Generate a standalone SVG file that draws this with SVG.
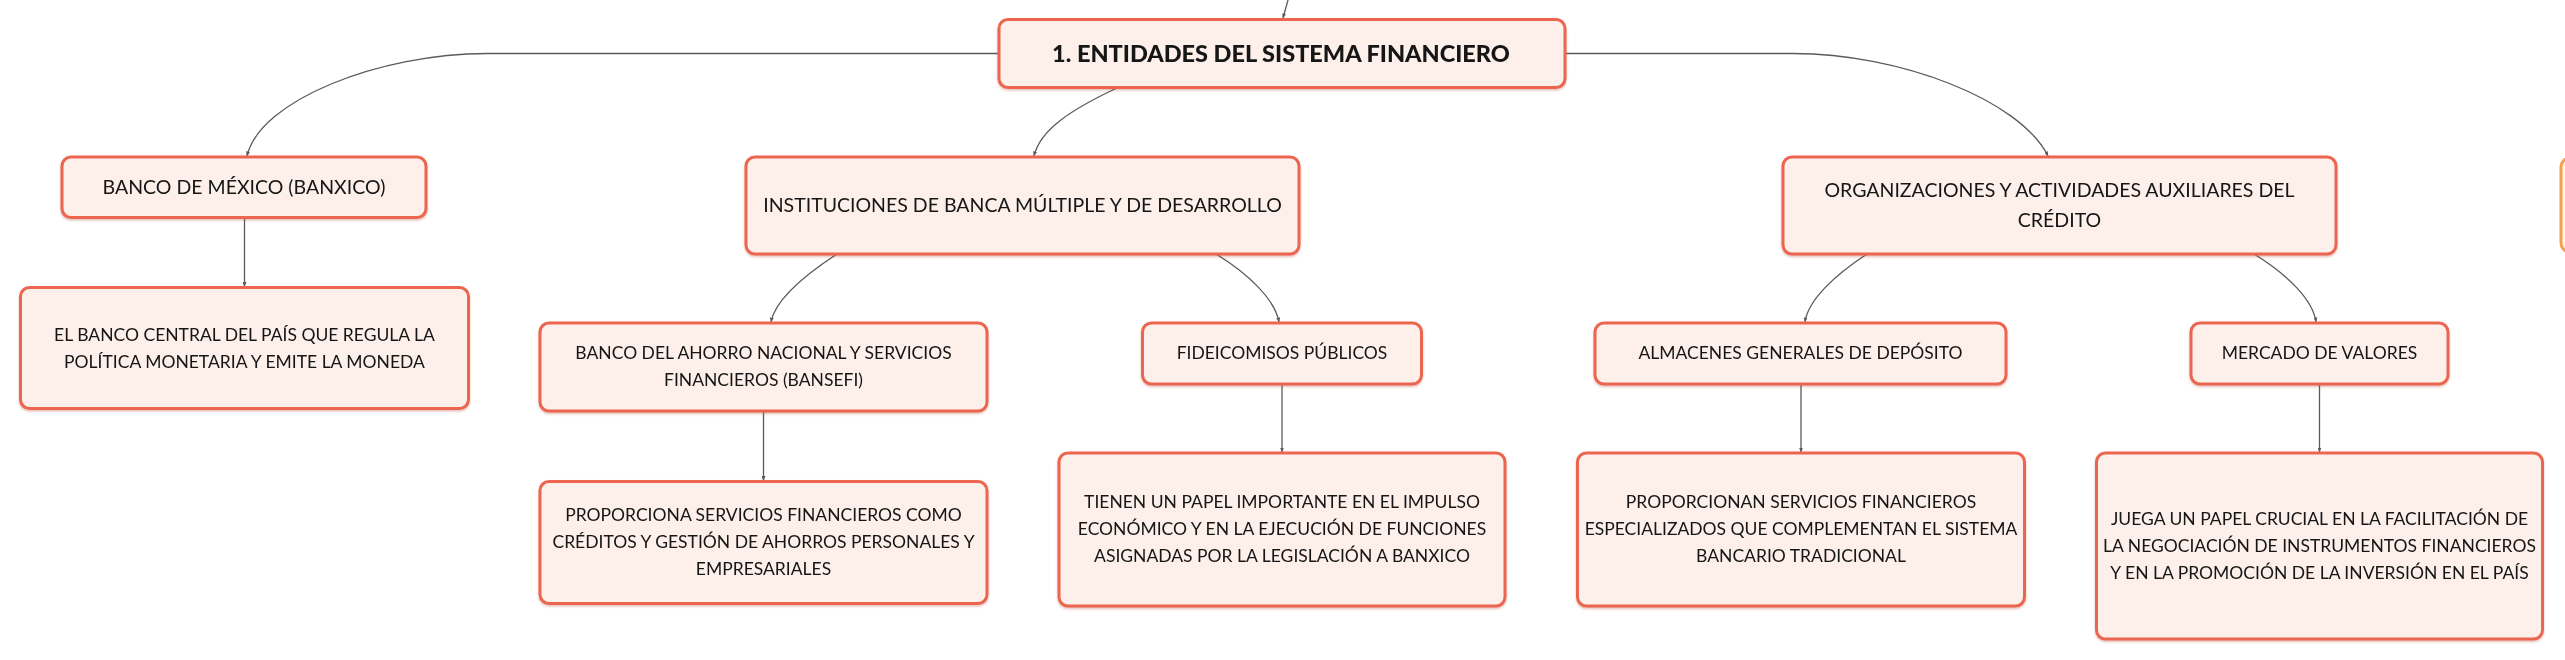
<svg xmlns="http://www.w3.org/2000/svg" width="2565" height="660" viewBox="0 0 2565 660">
<style>
  .box{fill:#fdf0eb;stroke:#ec6550;stroke-width:3}
  .t{font-family:Lato,"Liberation Sans",sans-serif;fill:#141414;text-anchor:middle}
  .b{font-size:17.5px}
  .m{font-size:19.5px}
  .r{font-size:23.5px;font-weight:900}
  .c{fill:none;stroke:#5a5a5a;stroke-width:1.3}
</style>
<defs>
  <marker id="ah" markerUnits="userSpaceOnUse" markerWidth="5" markerHeight="4" refX="4.5" refY="2" orient="auto">
    <path d="M0,0 L5,2 L0,4 z" fill="#5a5a5a"/>
  </marker>
  <filter id="sh" x="-5%" y="-5%" width="110%" height="120%">
    <feDropShadow dx="0" dy="1.5" stdDeviation="1" flood-color="#b04030" flood-opacity="0.35"/>
  </filter>
</defs>
<rect width="2565" height="660" fill="#ffffff"/>

<g id="connectors">
  <path class="c" d="M1288,0 L1283,18" marker-end="url(#ah)"/>
  <path class="c" d="M999,53.5 L487,53.5 C380,53.5 260,100 247,156" marker-end="url(#ah)"/>
  <path class="c" d="M1565,53.5 L1793,53.5 C1900,53.5 2020,100 2048,156" marker-end="url(#ah)"/>
  <path class="c" d="M1118,87.5 C1070,110 1040,130 1034,156" marker-end="url(#ah)"/>
  <path class="c" d="M837,254 C805,275 775,300 771,322" marker-end="url(#ah)"/>
  <path class="c" d="M1216,254 C1250,275 1275,300 1279,322" marker-end="url(#ah)"/>
  <path class="c" d="M1867,254 C1835,275 1808,300 1805,322" marker-end="url(#ah)"/>
  <path class="c" d="M2254,254 C2288,275 2313,300 2316,322" marker-end="url(#ah)"/>
  <path class="c" d="M244.5,217.5 L244.5,286.5" marker-end="url(#ah)"/>
  <path class="c" d="M763.5,411 L763.5,480.5" marker-end="url(#ah)"/>
  <path class="c" d="M1282,384 L1282,452" marker-end="url(#ah)"/>
  <path class="c" d="M1801,384 L1801,452" marker-end="url(#ah)"/>
  <path class="c" d="M2319.5,384 L2319.5,452" marker-end="url(#ah)"/>
</g>

<g id="root" filter="url(#sh)">
  <rect class="box" x="999" y="19.5" width="566" height="68" rx="9"/>
  <text class="t r" x="1281" y="62">1. ENTIDADES DEL SISTEMA FINANCIERO</text>
</g>

<g id="banxico" filter="url(#sh)">
  <rect class="box" x="62" y="157" width="364" height="60.5" rx="9"/>
  <text class="t m" x="244" y="194">BANCO DE MÉXICO (BANXICO)</text>
</g>
<g id="banxico-desc" filter="url(#sh)">
  <rect class="box" x="20.5" y="287.5" width="448" height="121" rx="9"/>
  <text class="t b" x="244.5" y="341">EL BANCO CENTRAL DEL PAÍS QUE REGULA LA</text>
  <text class="t b" x="244.5" y="367.5">POLÍTICA MONETARIA Y EMITE LA MONEDA</text>
</g>

<g id="instituciones" filter="url(#sh)">
  <rect class="box" x="746" y="157" width="553" height="97" rx="9"/>
  <text class="t m" x="1022.5" y="212">INSTITUCIONES DE BANCA MÚLTIPLE Y DE DESARROLLO</text>
</g>
<g id="bansefi" filter="url(#sh)">
  <rect class="box" x="540" y="323" width="447" height="88" rx="9"/>
  <text class="t b" x="763.5" y="359">BANCO DEL AHORRO NACIONAL Y SERVICIOS</text>
  <text class="t b" x="763.5" y="386">FINANCIEROS (BANSEFI)</text>
</g>
<g id="bansefi-desc" filter="url(#sh)">
  <rect class="box" x="540" y="481.5" width="447" height="122" rx="9"/>
  <text class="t b" x="763.5" y="520.5">PROPORCIONA SERVICIOS FINANCIEROS COMO</text>
  <text class="t b" x="763.5" y="547.5">CRÉDITOS Y GESTIÓN DE AHORROS PERSONALES Y</text>
  <text class="t b" x="763.5" y="574.5">EMPRESARIALES</text>
</g>
<g id="fideicomisos" filter="url(#sh)">
  <rect class="box" x="1142.5" y="323" width="279" height="61" rx="9"/>
  <text class="t b" x="1282" y="359">FIDEICOMISOS PÚBLICOS</text>
</g>
<g id="fideicomisos-desc" filter="url(#sh)">
  <rect class="box" x="1059" y="453" width="446" height="153" rx="9"/>
  <text class="t b" x="1282" y="508">TIENEN UN PAPEL IMPORTANTE EN EL IMPULSO</text>
  <text class="t b" x="1282" y="535">ECONÓMICO Y EN LA EJECUCIÓN DE FUNCIONES</text>
  <text class="t b" x="1282" y="562">ASIGNADAS POR LA LEGISLACIÓN A BANXICO</text>
</g>

<g id="organizaciones" filter="url(#sh)">
  <rect class="box" x="1783" y="157" width="553" height="97" rx="9"/>
  <text class="t m" x="2059.5" y="197">ORGANIZACIONES Y ACTIVIDADES AUXILIARES DEL</text>
  <text class="t m" x="2059.5" y="226.5">CRÉDITO</text>
</g>
<g id="almacenes" filter="url(#sh)">
  <rect class="box" x="1595" y="323" width="411" height="61" rx="9"/>
  <text class="t b" x="1800.5" y="359">ALMACENES GENERALES DE DEPÓSITO</text>
</g>
<g id="almacenes-desc" filter="url(#sh)">
  <rect class="box" x="1577.5" y="453" width="447" height="153" rx="9"/>
  <text class="t b" x="1801" y="508">PROPORCIONAN SERVICIOS FINANCIEROS</text>
  <text class="t b" x="1801" y="535">ESPECIALIZADOS QUE COMPLEMENTAN EL SISTEMA</text>
  <text class="t b" x="1801" y="562">BANCARIO TRADICIONAL</text>
</g>
<g id="mercado" filter="url(#sh)">
  <rect class="box" x="2191" y="323" width="257" height="61" rx="9"/>
  <text class="t b" x="2319.5" y="359">MERCADO DE VALORES</text>
</g>
<g id="mercado-desc" filter="url(#sh)">
  <rect class="box" x="2096.5" y="453" width="446" height="186" rx="9"/>
  <text class="t b" x="2319.5" y="525">JUEGA UN PAPEL CRUCIAL EN LA FACILITACIÓN DE</text>
  <text class="t b" x="2319.5" y="552">LA NEGOCIACIÓN DE INSTRUMENTOS FINANCIEROS</text>
  <text class="t b" x="2319.5" y="578.5">Y EN LA PROMOCIÓN DE LA INVERSIÓN EN EL PAÍS</text>
</g>

<g id="edge-node">
  <rect x="2561" y="158" width="60" height="94" rx="9" fill="#fff6ec" stroke="#f5a04a" stroke-width="3"/>
</g>
</svg>
